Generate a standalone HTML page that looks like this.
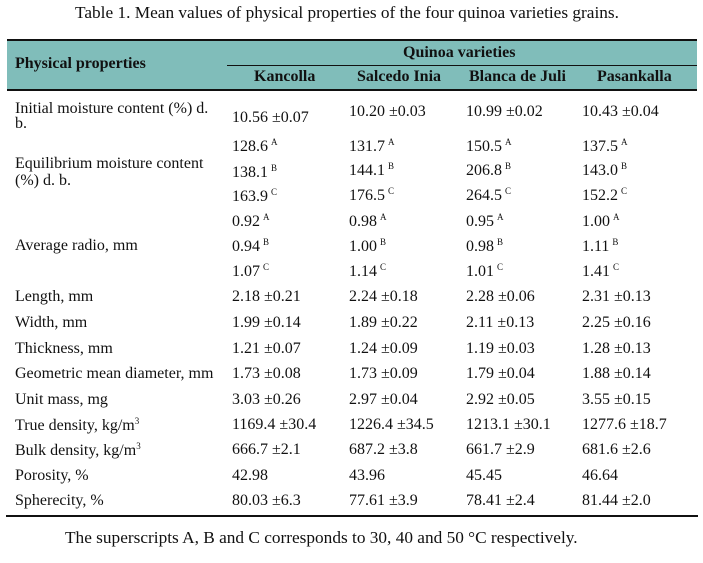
<!DOCTYPE html>
<html><head><meta charset="utf-8"><style>
body{margin:0;width:703px;height:563px;background:#fff;position:relative;overflow:hidden;font-family:"Liberation Serif",serif;color:#111;font-size:16px}
.t{position:absolute;white-space:nowrap;line-height:1}
.b{font-weight:bold}
sup{font-size:9px;vertical-align:6px;margin-left:3px}
.hd{position:absolute;left:7px;top:39px;width:690px;height:52px;background:#80bdba;border-top:2px solid #111;border-bottom:2px solid #111;box-sizing:border-box}
</style></head><body>
<div class="t" style="left:75px;top:4px;font-size:17.3px">Table 1. Mean values of physical properties of the four quinoa varieties grains.</div>
<div class="hd"></div>
<div style="position:absolute;left:227px;top:65px;width:470px;height:1px;background:#111"></div>
<div class="t b" style="left:15px;top:56px">Physical properties</div>
<div class="t b" style="left:403px;top:45px">Quinoa varieties</div>
<div class="t b" style="left:254px;top:69px">Kancolla</div>
<div class="t b" style="left:357px;top:69px">Salcedo Inia</div>
<div class="t b" style="left:469px;top:69px">Blanca de Juli</div>
<div class="t b" style="left:597px;top:69px">Pasankalla</div>

<div class="t" style="left:15px;top:101px">Initial moisture content (%) d.</div>
<div class="t" style="left:15px;top:116px">b.</div>
<div class="t" style="left:15px;top:156px">Equilibrium moisture content</div>
<div class="t" style="left:15px;top:173px">(%) d. b.</div>
<div class="t" style="left:15px;top:238px">Average radio, mm</div>
<div class="t" style="left:15px;top:289px">Length, mm</div>
<div class="t" style="left:15px;top:315px">Width, mm</div>
<div class="t" style="left:15px;top:341px">Thickness, mm</div>
<div class="t" style="left:15px;top:366px">Geometric mean diameter, mm</div>
<div class="t" style="left:15px;top:392px">Unit mass, mg</div>
<div class="t" style="left:15px;top:417px">True density, kg/m<sup style="margin:0">3</sup></div>
<div class="t" style="left:15px;top:442px">Bulk density, kg/m<sup style="margin:0">3</sup></div>
<div class="t" style="left:15px;top:468px">Porosity, %</div>
<div class="t" style="left:15px;top:493px">Spherecity, %</div>

<div class="t" style="left:232px;top:110px">10.56 ±0.07</div>
<div class="t" style="left:349px;top:104px">10.20 ±0.03</div>
<div class="t" style="left:466px;top:104px">10.99 ±0.02</div>
<div class="t" style="left:582px;top:104px">10.43 ±0.04</div>

<div class="t" style="left:232px;top:138px">128.6<sup>A</sup></div>
<div class="t" style="left:349px;top:138px">131.7<sup>A</sup></div>
<div class="t" style="left:466px;top:138px">150.5<sup>A</sup></div>
<div class="t" style="left:582px;top:138px">137.5<sup>A</sup></div>
<div class="t" style="left:232px;top:164px">138.1<sup>B</sup></div>
<div class="t" style="left:349px;top:162px">144.1<sup>B</sup></div>
<div class="t" style="left:466px;top:162px">206.8<sup>B</sup></div>
<div class="t" style="left:582px;top:162px">143.0<sup>B</sup></div>
<div class="t" style="left:232px;top:188px">163.9<sup>C</sup></div>
<div class="t" style="left:349px;top:187px">176.5<sup>C</sup></div>
<div class="t" style="left:466px;top:187px">264.5<sup>C</sup></div>
<div class="t" style="left:582px;top:187px">152.2<sup>C</sup></div>
<div class="t" style="left:232px;top:213px">0.92<sup>A</sup></div>
<div class="t" style="left:349px;top:213px">0.98<sup>A</sup></div>
<div class="t" style="left:466px;top:213px">0.95<sup>A</sup></div>
<div class="t" style="left:582px;top:213px">1.00<sup>A</sup></div>
<div class="t" style="left:232px;top:238px">0.94<sup>B</sup></div>
<div class="t" style="left:349px;top:238px">1.00<sup>B</sup></div>
<div class="t" style="left:466px;top:238px">0.98<sup>B</sup></div>
<div class="t" style="left:582px;top:238px">1.11<sup>B</sup></div>
<div class="t" style="left:232px;top:263px">1.07<sup>C</sup></div>
<div class="t" style="left:349px;top:263px">1.14<sup>C</sup></div>
<div class="t" style="left:466px;top:263px">1.01<sup>C</sup></div>
<div class="t" style="left:582px;top:263px">1.41<sup>C</sup></div>

<div class="t" style="left:232px;top:289px">2.18 ±0.21</div><div class="t" style="left:349px;top:289px">2.24 ±0.18</div><div class="t" style="left:466px;top:289px">2.28 ±0.06</div><div class="t" style="left:582px;top:289px">2.31 ±0.13</div>
<div class="t" style="left:232px;top:315px">1.99 ±0.14</div><div class="t" style="left:349px;top:315px">1.89 ±0.22</div><div class="t" style="left:466px;top:315px">2.11 ±0.13</div><div class="t" style="left:582px;top:315px">2.25 ±0.16</div>
<div class="t" style="left:232px;top:341px">1.21 ±0.07</div><div class="t" style="left:349px;top:341px">1.24 ±0.09</div><div class="t" style="left:466px;top:341px">1.19 ±0.03</div><div class="t" style="left:582px;top:341px">1.28 ±0.13</div>
<div class="t" style="left:232px;top:366px">1.73 ±0.08</div><div class="t" style="left:349px;top:366px">1.73 ±0.09</div><div class="t" style="left:466px;top:366px">1.79 ±0.04</div><div class="t" style="left:582px;top:366px">1.88 ±0.14</div>
<div class="t" style="left:232px;top:392px">3.03 ±0.26</div><div class="t" style="left:349px;top:392px">2.97 ±0.04</div><div class="t" style="left:466px;top:392px">2.92 ±0.05</div><div class="t" style="left:582px;top:392px">3.55 ±0.15</div>
<div class="t" style="left:232px;top:417px">1169.4 ±30.4</div><div class="t" style="left:349px;top:417px">1226.4 ±34.5</div><div class="t" style="left:466px;top:417px">1213.1 ±30.1</div><div class="t" style="left:582px;top:417px">1277.6 ±18.7</div>
<div class="t" style="left:232px;top:442px">666.7 ±2.1</div><div class="t" style="left:349px;top:442px">687.2 ±3.8</div><div class="t" style="left:466px;top:442px">661.7 ±2.9</div><div class="t" style="left:582px;top:442px">681.6 ±2.6</div>
<div class="t" style="left:232px;top:468px">42.98</div><div class="t" style="left:349px;top:468px">43.96</div><div class="t" style="left:466px;top:468px">45.45</div><div class="t" style="left:582px;top:468px">46.64</div>
<div class="t" style="left:232px;top:493px">80.03 ±6.3</div><div class="t" style="left:349px;top:493px">77.61 ±3.9</div><div class="t" style="left:466px;top:493px">78.41 ±2.4</div><div class="t" style="left:582px;top:493px">81.44 ±2.0</div>

<div style="position:absolute;left:6px;top:515px;width:692px;height:2px;background:#111"></div>
<div class="t" style="left:65px;top:529px;font-size:17.3px">The superscripts A, B and C corresponds to 30, 40 and 50 °C respectively.</div>
</body></html>
